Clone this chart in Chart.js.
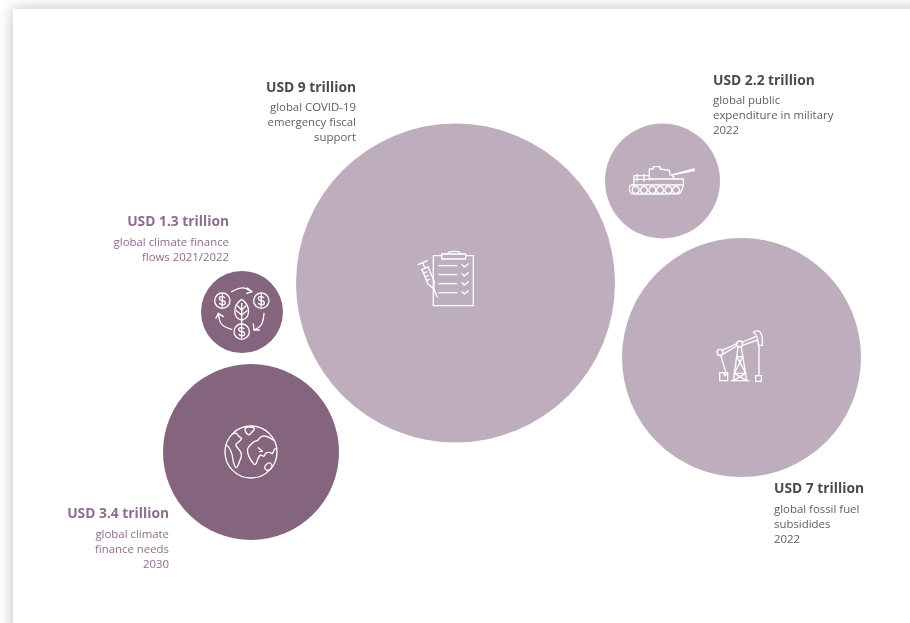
<!DOCTYPE html>
<html><head><meta charset="utf-8">
<style>
html,body{margin:0;padding:0;background:#fff;width:910px;height:623px;overflow:hidden}
#card{position:absolute;left:13px;top:9px;width:1000px;height:800px;background:#fff;box-shadow:0 0 14px rgba(0,0,0,.26)}
#c{position:absolute;left:0;top:0}
</style>
<script src="https://cdn.jsdelivr.net/npm/chart.js@4"></script>
</head><body><div id="card"></div><canvas id="c" width="910" height="623"></canvas>
<script>
const categories=["COVID-19 fiscal support","Military expenditure","Fossil fuel subsidies","Climate finance flows","Climate finance needs"];
const amounts=[9,2.2,7,1.3,3.4];
const bubbleX=[455.5,662.5,741.5,242,251];
const bubbleY=[283,181,357.5,312,452];
const bubbleR=[159.5,57.5,119.5,41,88];
const headlines=["USD 9 trillion","USD 2.2 trillion","USD 7 trillion","USD 1.3 trillion","USD 3.4 trillion"];
const descriptions=[["global COVID-19","emergency fiscal","support"],["global public","expenditure in military","2022"],["global fossil fuel","subsidides","2022"],["global climate finance","flows 2021/2022"],["global climate","finance needs","2030"]];
const LIGHT="#beaebd",DARK="#85647d";
const fills=[LIGHT,LIGHT,LIGHT,DARK,DARK];
// text anchors: [x, headline y, first description y, align, headline colour, body colour]
const anchors=[[356,88.5,107.5,"right","#4a4a4f","#5f5f63"],[713,81.5,100.5,"left","#4a4a4f","#5f5f63"],[774,489.5,509.5,"left","#4a4a4f","#5f5f63"],[229,222.5,242.5,"right","#8f6d8e","#8f6d8e"],[169,514.5,534.5,"right","#8f6d8e","#8f6d8e"]];
const HEAD_FONT='"Open Sans", sans-serif';
const BODY_FONT='"Open Sans", sans-serif';

function P(ctx,pts,close){ctx.beginPath();pts.forEach((p,i)=>i?ctx.lineTo(p[0],p[1]):ctx.moveTo(p[0],p[1]));if(close)ctx.closePath();ctx.stroke();}
function C(ctx,x,y,r){ctx.beginPath();ctx.arc(x,y,r,0,Math.PI*2);ctx.stroke();}
function curve(ctx,pts,close){
  ctx.beginPath();
  if(close){const a=pts[pts.length-1],b=pts[0];ctx.moveTo((a[0]+b[0])/2,(a[1]+b[1])/2);
    for(let i=0;i<pts.length;i++){const n=pts[(i+1)%pts.length];ctx.quadraticCurveTo(pts[i][0],pts[i][1],(pts[i][0]+n[0])/2,(pts[i][1]+n[1])/2);}ctx.closePath();}
  else{ctx.moveTo(pts[0][0],pts[0][1]);for(let i=1;i<pts.length-1;i++){const n=pts[i+1];ctx.quadraticCurveTo(pts[i][0],pts[i][1],(pts[i][0]+n[0])/2,(pts[i][1]+n[1])/2);}const l=pts[pts.length-1];ctx.lineTo(l[0],l[1]);}
  ctx.stroke();
}
const icons=[
 function clipboard(ctx){
  ctx.translate(-166.5,-129);
  P(ctx,[[125,47],[100,47],[100,197],[220,197],[220,47],[197,47]]);
  P(ctx,[[125,42],[197,42],[197,57],[125,57]],true);
  curve(ctx,[[143,42],[143,34],[180,34],[180,42]]);
  [77,104,131,158].forEach(y=>{P(ctx,[[117,y],[170,y]]);P(ctx,[[186,y-3],[193,y+4],[205,y-6]]);});
  ctx.save();ctx.translate(68,68);ctx.rotate(-0.40);
  P(ctx,[[-15,0],[15,0]]);P(ctx,[[0,0],[0,18]]);P(ctx,[[-12,18],[12,18]]);
  P(ctx,[[-10,18],[-10,65],[0,85],[10,65],[10,18]]);
  P(ctx,[[0,85],[0,112]]);
  [30,42,54].forEach(y=>P(ctx,[[-10,y],[0,y]]));
  ctx.restore();
 },
 function tank(ctx){
  ctx.translate(-127.5,-78);
  [47,72,97,120,145,168].forEach(x=>C(ctx,x,105,10));
  curve(ctx,[[28,98],[30,90],[40,90]]);curve(ctx,[[28,102],[30,116],[44,117],[170,117],[182,115],[190,92]]);
  P(ctx,[[40,90],[190,90]]);
  P(ctx,[[42,90],[42,62],[88,62]]);P(ctx,[[42,73],[88,73]]);
  P(ctx,[[52,58],[52,78]]);P(ctx,[[72,58],[72,78]]);
  P(ctx,[[88,75],[88,42],[100,42],[100,35],[120,35],[120,42],[148,46]]);
  P(ctx,[[88,72],[190,72],[190,90]]);
  P(ctx,[[165,72],[155,60],[222,42],[223,47],[155,60]]);
  P(ctx,[[148,46],[150,60]]);
 },
 function pump(ctx){
  ctx.translate(-109.5,-112.5);
  C(ctx,45,97,9);C(ctx,104,72,9);
  P(ctx,[[50,92],[96,71]]);P(ctx,[[52,104],[95,78]]);
  P(ctx,[[112,66],[152,50]]);P(ctx,[[112,76],[158,60]]);
  ctx.beginPath();ctx.moveTo(145,36);ctx.quadraticCurveTo(175,20,172,76);ctx.lineTo(160,76);ctx.quadraticCurveTo(160,48,145,36);ctx.closePath();ctx.stroke();
  P(ctx,[[162,76],[162,166]]);
  P(ctx,[[152,167],[169,167],[169,184],[152,184]],true);
  P(ctx,[[99,81],[85,182]]);P(ctx,[[109,81],[125,182]]);
  P(ctx,[[78,182],[132,182]]);
  P(ctx,[[96,110],[113,110]]);P(ctx,[[96,110],[122,160]]);P(ctx,[[113,110],[88,160]]);P(ctx,[[88,160],[125,182]]);P(ctx,[[122,160],[85,182]]);P(ctx,[[89,160],[121,160]]);
  P(ctx,[[47,106],[62,155]]);
  P(ctx,[[44,158],[68,158],[68,182],[44,182]],true);
  P(ctx,[[54,158],[60,168],[68,158]]);
 },
 function coins(ctx){
  ctx.translate(-156,-156);
  function dollar(x,y){C(ctx,x,y,23);curve(ctx,[[x+7,y-9],[x+4,y-12],[x-9,y-12],[x-9,y-2],[x,y],[x+9,y+2],[x+9,y+12],[x-4,y+12],[x-8,y+8]]);P(ctx,[[x,y-18],[x,y+18]]);}
  dollar(97,122);dollar(214,122);dollar(155,215);
  curve(ctx,[[125,95],[155,78],[185,95]]);P(ctx,[[172,84],[186,95],[170,100]]);
  curve(ctx,[[222,160],[220,195],[192,210]]);P(ctx,[[190,192],[192,210],[208,210]]);
  curve(ctx,[[125,208],[92,200],[85,160]]);P(ctx,[[78,175],[85,160],[100,170]]);
  ctx.beginPath();ctx.moveTo(155,118);ctx.bezierCurveTo(185,140,180,175,155,180);ctx.bezierCurveTo(130,175,125,140,155,118);ctx.closePath();ctx.stroke();
  P(ctx,[[155,130],[155,192]]);P(ctx,[[155,150],[143,138]]);P(ctx,[[155,150],[167,138]]);P(ctx,[[155,165],[139,152]]);P(ctx,[[155,165],[171,152]]);
 },
 function globe(ctx){
  ctx.translate(-108,-111);
  C(ctx,108,111,78);
  curve(ctx,[[52,58],[62,50],[72,66],[82,70],[72,80],[60,90],[70,100],[82,118],[75,135],[64,165],[54,140],[52,118],[42,96],[33,90]]);
  curve(ctx,[[88,38],[112,35],[120,42],[112,50],[102,62],[92,52]],true);
  curve(ctx,[[176,76],[160,64],[138,62],[128,78],[118,78],[104,92],[96,102],[100,122],[110,140],[122,152],[128,132],[136,118],[148,126],[152,112],[168,112],[172,118],[178,102],[185,100]]);
  P(ctx,[[130,98],[142,108],[134,110]]);
  curve(ctx,[[148,155],[160,142],[170,146],[172,158],[158,168],[150,162]],true);
 }
];
const overlay={id:"overlay",afterDatasetsDraw(chart){
  const ctx=chart.ctx,x=chart.scales.x,y=chart.scales.y;
  bubbleX.forEach((bx,i)=>{
    ctx.save();ctx.translate(x.getPixelForValue(bx),y.getPixelForValue(bubbleY[i]));ctx.scale(1/3,1/3);
    ctx.strokeStyle="#fff";ctx.lineWidth=4;ctx.lineJoin="round";ctx.lineCap="round";
    icons[i](ctx);ctx.restore();
    const a=anchors[i];
    ctx.save();ctx.textAlign=a[3];ctx.textBaseline="middle";
    ctx.font='700 13.8px '+HEAD_FONT;ctx.fillStyle=a[4];ctx.fillText(headlines[i],a[0],a[1]);
    ctx.font='400 11.4px '+BODY_FONT;ctx.fillStyle=a[5];
    descriptions[i].forEach((t,k)=>ctx.fillText(t,a[0],a[2]+k*15.2));
    ctx.restore();
  });
}};
new Chart(document.getElementById("c"),{
  type:"bubble",
  data:{labels:categories,datasets:[{label:"USD trillion",data:bubbleX.map((v,i)=>({x:v,y:bubbleY[i],r:bubbleR[i],amount:amounts[i]})),backgroundColor:fills,borderWidth:0,hoverBorderWidth:0}]},
  options:{responsive:false,animation:false,clip:false,
    layout:{padding:0,autoPadding:false},
    plugins:{legend:{display:false},tooltip:{enabled:false},title:{display:false}},
    events:[],
    scales:{x:{type:"linear",min:0,max:910,display:false},y:{type:"linear",min:0,max:623,reverse:true,display:false}}},
  plugins:[overlay]
});
</script></body></html>
